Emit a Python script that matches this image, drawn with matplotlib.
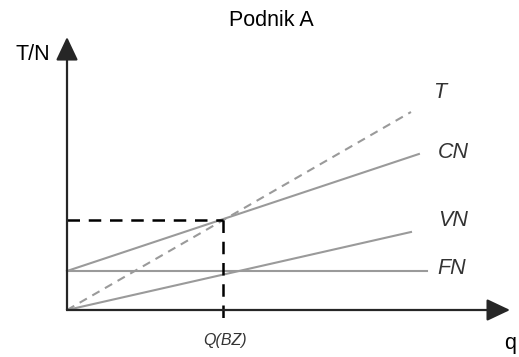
import matplotlib.pyplot as plt

plt.rcParams["font.family"] = ["Liberation Sans", "DejaVu Sans"]

# 数据：横轴为产量 q，纵轴为收入/成本（任意单位）
line_names = ["T", "CN", "VN", "FN"]
q_start = [0.0, 0.0, 0.0, 0.0]
q_end = [10.0, 10.23, 10.0, 10.47]
v_start = [0.0, 3.9, 0.0, 3.9]
v_end = [19.8, 15.6, 7.8, 3.9]

# 盈亏平衡点 Q(BZ)
q_bz = 4.535
v_bz = 9.0

# 坐标轴范围
q_axis_max = 12.88
v_axis_max = 27.3
q_label_text = "Q(BZ)"

fig = plt.figure(figsize=(5.19, 3.57), dpi=100)
ax = fig.add_axes([0, 0, 1, 1])
ax.set_xlim(-1.948, 13.14)
ax.set_ylim(-4.7, 31.0)
ax.axis("off")

gray = "#9a9a9a"
dark = "#262626"

# 四条线：T 为虚线，其余为实线
for name, qs, qe, vs, ve in zip(line_names, q_start, q_end, v_start, v_end):
    if name == "T":
        ax.plot([qs, qe], [vs, ve], color=gray, lw=1.5, dashes=(4, 3), zorder=2)
    else:
        ax.plot([qs, qe], [vs, ve], color=gray, lw=1.5, zorder=2)

# 线名标注
label_pos = {"T": (10.64, 21.7), "CN": (10.78, 15.7), "VN": (10.78, 9.0), "FN": (10.78, 4.2)}
for name in line_names:
    lx, ly = label_pos[name]
    ax.text(lx, ly, name, fontsize=15.5, style="italic", color="#333333",
            ha="left", va="center")

# 盈亏平衡点的辅助虚线
ax.plot([0, q_bz], [v_bz, v_bz], color="black", lw=1.8, dashes=(5, 3.5), zorder=3)
ax.plot([q_bz, q_bz], [v_bz, -1.0], color="black", lw=1.8, dashes=(5, 3.5), zorder=3)
ax.text(4.6, -3.1, q_label_text, fontsize=11.5, style="italic", color="#333333",
        ha="center", va="center")

# 坐标轴与箭头
arrow_style = "-|>,head_length=0.55,head_width=0.26"
ax.annotate("", xy=(q_axis_max, 0), xytext=(0, 0),
            arrowprops=dict(arrowstyle=arrow_style, color=dark, lw=1.6,
                            mutation_scale=26, shrinkA=0, shrinkB=0))
ax.annotate("", xy=(0, v_axis_max), xytext=(0, 0),
            arrowprops=dict(arrowstyle=arrow_style, color=dark, lw=1.6,
                            mutation_scale=26, shrinkA=0, shrinkB=0))

ax.text(-0.49, 25.5, "T/N", fontsize=15.5, color="black", ha="right", va="center")
ax.text(12.88, -3.4, "q", fontsize=15.5, color="black", ha="center", va="center")
ax.text(5.93, 29.0, "Podnik A", fontsize=15.5, color="black", ha="center", va="center")

fig.savefig("out.png", dpi=100)
